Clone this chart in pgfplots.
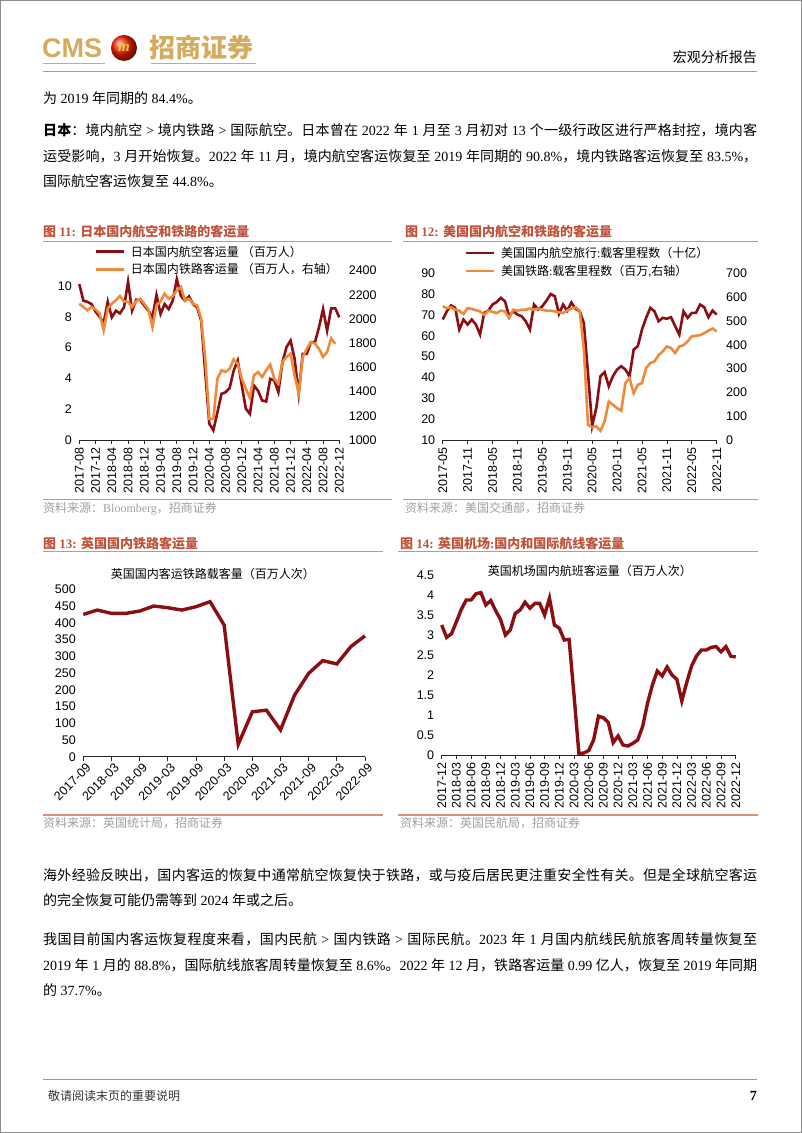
\documentclass[border=0pt]{standalone}
\usepackage{pgfplots}
\pgfplotsset{compat=1.18}
\usepackage{fontspec}
\setmainfont{Liberation Serif}
\newfontfamily\cjk{Noto Sans CJK SC}
\newfontfamily\arial{Liberation Sans}
% automatic CJK/Latin font switching
\XeTeXinterchartokenstate=1
\newXeTeXintercharclass\cjkcls
\newcount\cc
\def\setcls#1#2{\cc=#1\relax\loop\XeTeXcharclass\cc=\cjkcls\relax\ifnum\cc<#2\relax\advance\cc by 1\repeat}
\setcls{"4E00}{"9FFF}
\setcls{"3000}{"303F}
\setcls{"FF00}{"FFEF}
\def\latinfam{\rmfamily}
\def\cjkglue{\hskip0pt plus 1pt minus 0.4pt\relax}
\XeTeXinterchartoks 0 \cjkcls = {\cjk}
\XeTeXinterchartoks 4095 \cjkcls = {\cjk}
\XeTeXinterchartoks \cjkcls 0 = {\latinfam}
\XeTeXinterchartoks \cjkcls 4095 = {\latinfam}
\XeTeXinterchartoks \cjkcls \cjkcls = {\cjkglue}

\definecolor{dred}{RGB}{139,14,18}
\definecolor{orng}{RGB}{240,138,58}
\definecolor{ttl}{RGB}{192,82,58}
\definecolor{ttlline}{RGB}{222,140,118}
\definecolor{gold}{RGB}{212,172,96}
\definecolor{srcgray}{RGB}{160,160,160}

\pgfplotsset{
  base/.style={
    scale only axis, clip=false,
    axis x line*=bottom, axis y line*=left,
    y axis line style={draw=none},
    x axis line style={black!85, line width=0.7pt},
    ytick style={draw=none},
    xtick style={black!85, line width=0.7pt},
    tick align=outside, major tick length=4pt,
    ticklabel style={font=\arial\fontsize{12.5}{12.5}\selectfont},
    /pgf/number format/1000 sep={},
    /pgf/number format/assume math mode=true,
    legend cell align=left,
    legend style={draw=none, fill=none, inner sep=0pt, font=\fontsize{12}{12}\selectfont, row sep=2pt},
    legend image code/.code={\draw[##1] (0pt,0pt) -- (28pt,0pt); \path (32pt,0pt);},
  },
  twin/.style={
    scale only axis, clip=false,
    axis x line=none, axis y line*=right,
    y axis line style={draw=none},
    ytick style={draw=none},
    ticklabel style={font=\arial\fontsize{12.5}{12.5}\selectfont},
    yticklabel style={xshift=6pt},
    /pgf/number format/1000 sep={},
    /pgf/number format/assume math mode=true,
  },
  vlab/.style={xticklabel style={rotate=90, anchor=east, inner sep=1pt, xshift=-2.5pt}},
}

\newcommand\bodyfont{\fontsize{14}{14}\selectfont}
\newcommand\jline[1]{\hbox to 714pt{#1}}

\begin{document}
\begin{tikzpicture}[x=1pt,y=1pt]
\useasboundingbox (0,0) rectangle (802,1133);
\fill[white] (0,0) rectangle (802,1133);
\draw[black!45, line width=1pt] (0.5,0.5) rectangle (801.5,1132.5);

% ---------- header ----------
\node[anchor=west, inner sep=0, text=gold, font=\arial\bfseries\fontsize{27}{27}\selectfont] at (42,1085) {CMS};
\shade[ball color=red!75!orange] (124,1085) circle (13);
\node[text=gold!60!yellow, font=\bfseries\itshape\fontsize{15}{15}\selectfont] at (124,1085) {m};
\node[anchor=west, inner sep=0, text=gold, font=\bfseries\fontsize{26}{26}\selectfont] at (149,1085) {招商证券};
\draw[gold, line width=1.2pt] (43,1069.5) -- (105,1069.5);
\draw[gold, line width=1.2pt] (151,1069.5) -- (256,1069.5);
\node[anchor=east, inner sep=0, font=\fontsize{14}{14}\selectfont] at (757,1076.3) {宏观分析报告};
\draw[ttlline, line width=1pt] (43,1061.3) -- (757,1061.3);

% ---------- top text ----------
\begin{scope}[every node/.style={anchor=west, inner sep=0, font=\bodyfont}]
\node at (43,1035.3) {为 2019 年同期的 84.4\%。};
\node at (43,1002.5) {\jline{{\bfseries 日本}：境内航空 > 境内铁路 > 国际航空。日本曾在 2022 年 1 月至 3 月初对 13 个一级行政区进行严格封控，境内客}};
\node at (43,977) {\jline{运受影响，3 月开始恢复。2022 年 11 月，境内航空客运恢复至 2019 年同期的 90.8\%，境内铁路客运恢复至 83.5\%，}};
\node at (43,951.5) {国际航空客运恢复至 44.8\%。};
% bottom text
\node at (43,258) {\jline{海外经验反映出，国内客运的恢复中通常航空恢复快于铁路，或与疫后居民更注重安全性有关。但是全球航空客运}};
\node at (43,232.5) {的完全恢复可能仍需等到 2024 年或之后。};
\node at (43,193.5) {\jline{我国目前国内客运恢复程度来看，国内民航 > 国内铁路 > 国际民航。2023 年 1 月国内航线民航旅客周转量恢复至}};
\node at (43,168) {\jline{2019 年 1 月的 88.8\%，国际航线旅客周转量恢复至 8.6\%。2022 年 12 月，铁路客运量 0.99 亿人，恢复至 2019 年同期}};
\node at (43,142.5) {的 37.7\%。};
\end{scope}

% ---------- footer ----------
\draw[black!40, line width=0.8pt] (43,54) -- (757,54);
\node[anchor=west, inner sep=0, font=\fontsize{12}{12}\selectfont, text=black!80] at (48,37) {敬请阅读末页的重要说明};
\node[anchor=east, inner sep=0, font=\bfseries\fontsize{14}{14}\selectfont] at (757,37) {7};

% ---------- figure titles, rules, sources ----------
\begin{scope}[every node/.style={anchor=west, inner sep=0, text=ttl, font=\bfseries\fontsize{13}{13}\selectfont}]
\node at (43,901.3) {图 11: 日本国内航空和铁路的客运量};
\node at (405,901.3) {图 12: 美国国内航空和铁路的客运量};
\node at (43,589.7) {图 13: 英国国内铁路客运量};
\node at (400,589.7) {图 14: 英国机场:国内和国际航线客运量};
\end{scope}
\draw[ttlline, line width=1.2pt] (43,891.3) -- (392,891.3);
\draw[ttlline, line width=1.2pt] (403,891.3) -- (758,891.3);
\draw[ttlline, line width=1.2pt] (43,633.7) -- (392,633.7);
\draw[ttlline, line width=1.2pt] (403,633.7) -- (758,633.7);
\draw[ttlline, line width=1.2pt] (43,581.3) -- (383,581.3);
\draw[ttlline, line width=1.2pt] (398,581.3) -- (758,581.3);
\draw[ttlline, line width=1.2pt] (43,318) -- (383,318);
\draw[ttlline, line width=1.2pt] (398,318) -- (758,318);
\begin{scope}[every node/.style={anchor=west, inner sep=0, text=srcgray, font=\fontsize{12}{12}\selectfont}]
\node at (43,624.7) {资料来源：Bloomberg，招商证券};
\node at (405,624.7) {资料来源：美国交通部，招商证券};
\node at (43,309.7) {资料来源：英国统计局，招商证券};
\node at (400,309.7) {资料来源：英国民航局，招商证券};
\end{scope}

% ---------- Chart 11 ----------
\begin{axis}[base, vlab, at={(79.3pt,693pt)}, anchor=south west, width=260pt, height=169.3pt,
  xmin=0, xmax=64, ymin=0, ymax=11, ytick={0,2,...,10},
  xtick={0,4,...,64},
  xticklabels={2017-08,2017-12,2018-04,2018-08,2018-12,2019-04,2019-08,2019-12,2020-04,2020-08,2020-12,2021-04,2021-08,2021-12,2022-04,2022-08,2022-12},
  legend style={at={(0.057,1.16)}, anchor=north west}]
\addplot[dred, line width=2.6pt] coordinates {(0,10.13)(1,9.05)(2,8.98)(3,8.83)(4,8.34)(5,8.01)(6,7.6)(7,8.98)(8,7.97)(9,8.4)(10,8.23)(11,8.62)(12,10.28)(13,8.4)(14,9.11)(15,9.1)(16,8.73)(17,8.4)(18,7.97)(19,9.42)(20,8.19)(21,8.83)(22,8.5)(23,9.05)(24,10.45)(25,9.37)(26,9.05)(27,9.33)(28,8.83)(29,8.62)(30,7.75)(31,4.4)(32,1.06)(33,0.63)(34,1.8)(35,3.0)(36,3.1)(37,3.37)(38,4.5)(39,5.16)(40,3.54)(41,2.03)(42,1.7)(43,3.54)(44,3.2)(45,2.57)(46,2.5)(47,3.97)(48,3.87)(49,3.11)(50,5.05)(51,6.03)(52,6.46)(53,5.27)(54,3.0)(55,5.6)(56,5.6)(57,6.35)(58,6.35)(59,7.32)(60,8.51)(61,7.1)(62,8.55)(63,8.55)(64,7.97)};
\addlegendentry{日本国内航空客运量 （百万人）}
\addlegendimage{orng, line width=2.6pt}
\addlegendentry{日本国内铁路客运量 （百万人，右轴）}
\end{axis}
\begin{axis}[twin, at={(79.3pt,693pt)}, anchor=south west, width=260pt, height=169.3pt,
  xmin=0, xmax=64, ymin=1000, ymax=2400, ytick={1000,1200,...,2400}]
\addplot[orng, line width=2.6pt] coordinates {(0,2127)(1,2100)(2,2072)(3,2100)(4,2080)(5,2045)(6,1907)(7,2086)(8,2127)(9,2155)(10,2190)(11,2146)(12,2141)(13,2100)(14,2146)(15,2168)(16,2127)(17,2080)(18,1935)(19,2113)(20,2146)(21,2210)(22,2168)(23,2190)(24,2237)(25,2265)(26,2155)(27,2168)(28,2127)(29,2113)(30,2003)(31,1672)(32,1176)(33,1176)(34,1507)(35,1576)(36,1562)(37,1590)(38,1667)(39,1631)(40,1507)(41,1424)(42,1347)(43,1535)(44,1562)(45,1521)(46,1576)(47,1623)(48,1507)(49,1466)(50,1645)(51,1686)(52,1714)(53,1535)(54,1383)(55,1686)(56,1755)(57,1810)(58,1797)(59,1755)(60,1686)(61,1728)(62,1840)(63,1795)};
\end{axis}

% ---------- Chart 12 ----------
\begin{axis}[base, vlab, at={(442.7pt,693pt)}, anchor=south west, width=274pt, height=166.7pt,
  xmin=0, xmax=66, ymin=10, ymax=90, ytick={10,20,...,90},
  xtick={0,6,...,66},
  xticklabels={2017-05,2017-11,2018-05,2018-11,2019-05,2019-11,2020-05,2020-11,2021-05,2021-11,2022-05,2022-11},
  legend style={at={(0.079,1.17)}, anchor=north west}]
\addplot[dred, line width=2.6pt] coordinates {(0,67.8)(1,71.8)(2,74.6)(3,73.4)(4,63)(5,67.8)(6,65.4)(7,67.8)(8,65.4)(9,60.6)(10,71)(11,72.1)(12,75)(13,76.2)(14,78.2)(15,76.6)(16,69.4)(17,71.8)(18,70.2)(19,69.4)(20,67)(21,63)(22,75)(23,72.6)(24,74.2)(25,76.9)(26,80)(27,79)(28,70.5)(29,75)(30,72)(31,76)(32,73)(33,71.8)(34,66)(35,42)(36,16.8)(37,25.4)(38,40.6)(39,42.6)(40,35.8)(41,40.6)(42,43.8)(43,45.4)(44,43.8)(45,40.6)(46,53.4)(47,55)(48,63)(49,68.6)(50,73.4)(51,71.8)(52,67)(53,68.6)(54,68.2)(55,68.9)(56,64.6)(57,60.6)(58,71.8)(59,68.6)(60,71)(61,71)(62,75)(63,73.7)(64,68.9)(65,72.1)(66,70.2)};
\addlegendentry{美国国内航空旅行:载客里程数（十亿）}
\addlegendimage{orng, line width=2.6pt}
\addlegendentry{美国铁路:载客里程数（百万,右轴）}
\end{axis}
\begin{axis}[twin, at={(442.7pt,693pt)}, anchor=south west, width=274pt, height=166.7pt,
  xmin=0, xmax=66, ymin=0, ymax=700, ytick={0,100,...,700}]
\addplot[orng, line width=2.6pt] coordinates {(0,561)(1,554)(2,557)(3,547)(4,543)(5,529)(6,554)(7,550)(8,545)(9,540)(10,526)(11,543)(12,538)(13,533)(14,543)(15,540)(16,512)(17,547)(18,543)(19,547)(20,547)(21,552)(22,547)(23,552)(24,547)(25,543)(26,543)(27,540)(28,536)(29,533)(30,543)(31,552)(32,557)(33,543)(34,380)(35,64)(36,53)(37,57)(38,39)(39,78)(40,162)(41,148)(42,134)(43,123)(44,239)(45,260)(46,197)(47,232)(48,239)(49,302)(50,323)(51,330)(52,356)(53,372)(54,393)(55,386)(56,365)(57,393)(58,398)(59,414)(60,435)(61,438)(62,440)(63,449)(64,459)(65,468)(66,456)};
\end{axis}

% ---------- Chart 13 ----------
\begin{axis}[base, at={(83.3pt,376.3pt)}, anchor=south west, width=281.7pt, height=167.4pt,
  xmin=0, xmax=20, ymin=0, ymax=500, ytick={0,50,...,500},
  xtick={0,2,...,20},
  xticklabels={2017-09,2018-03,2018-09,2019-03,2019-09,2020-03,2020-09,2021-03,2021-09,2022-03,2022-09},
  xticklabel style={rotate=45, anchor=north east, inner sep=0.5pt, xshift=1pt, yshift=-2pt},
  title={英国国内客运铁路载客量（百万人次）},
  title style={at={(0.46,1.055)}, anchor=center, yshift=0pt, font=\fontsize{12}{12}\selectfont}]
\addplot[dred, line width=3.4pt] coordinates {(0,425)(1,438)(2,428)(3,428)(4,435)(5,450)(6,445)(7,438)(8,448)(9,463)(10,393)(11,37)(12,134)(13,139)(14,80)(15,184)(16,249)(17,287)(18,277)(19,329)(20,361)};
\end{axis}

% ---------- Chart 14 ----------
\begin{axis}[base, vlab, at={(441.7pt,378pt)}, anchor=south west, width=294pt, height=180pt,
  xmin=0, xmax=60, ymin=0, ymax=4.5, ytick={0,0.5,...,4.5},
  yticklabel={\pgfmathprintnumber[fixed]{\tick}},
  xtick={0,3,...,60},
  xticklabels={2017-12,2018-03,2018-06,2018-09,2018-12,2019-03,2019-06,2019-09,2019-12,2020-03,2020-06,2020-09,2020-12,2021-03,2021-06,2021-09,2021-12,2022-03,2022-06,2022-09,2022-12},
  title={英国机场国内航班客运量（百万人次）},
  title style={at={(0.504,0.99)}, anchor=center, yshift=0pt, font=\fontsize{12}{12}\selectfont}]
\addplot[dred, line width=3.4pt] coordinates {(0,3.25)(1,2.94)(2,3.03)(3,3.33)(4,3.64)(5,3.875)(6,3.875)(7,4.03)(8,4.06)(9,3.75)(10,3.86)(11,3.61)(12,3.39)(13,3.0)(14,3.125)(15,3.54)(16,3.625)(17,3.82)(18,3.67)(19,3.79)(20,3.79)(21,3.5)(22,3.92)(23,3.25)(24,3.17)(25,2.875)(26,2.89)(27,1.5)(28,0.03)(29,0.05)(30,0.11)(31,0.375)(32,0.97)(33,0.93)(34,0.81)(35,0.31)(36,0.475)(37,0.25)(38,0.225)(39,0.29)(40,0.375)(41,0.71)(42,1.29)(43,1.75)(44,2.1)(45,1.975)(46,2.2)(47,2.0)(48,1.89)(49,1.35)(50,1.81)(51,2.225)(52,2.475)(53,2.625)(54,2.625)(55,2.69)(56,2.71)(57,2.58)(58,2.71)(59,2.47)(60,2.45)};
\end{axis}
\end{tikzpicture}
\end{document}
